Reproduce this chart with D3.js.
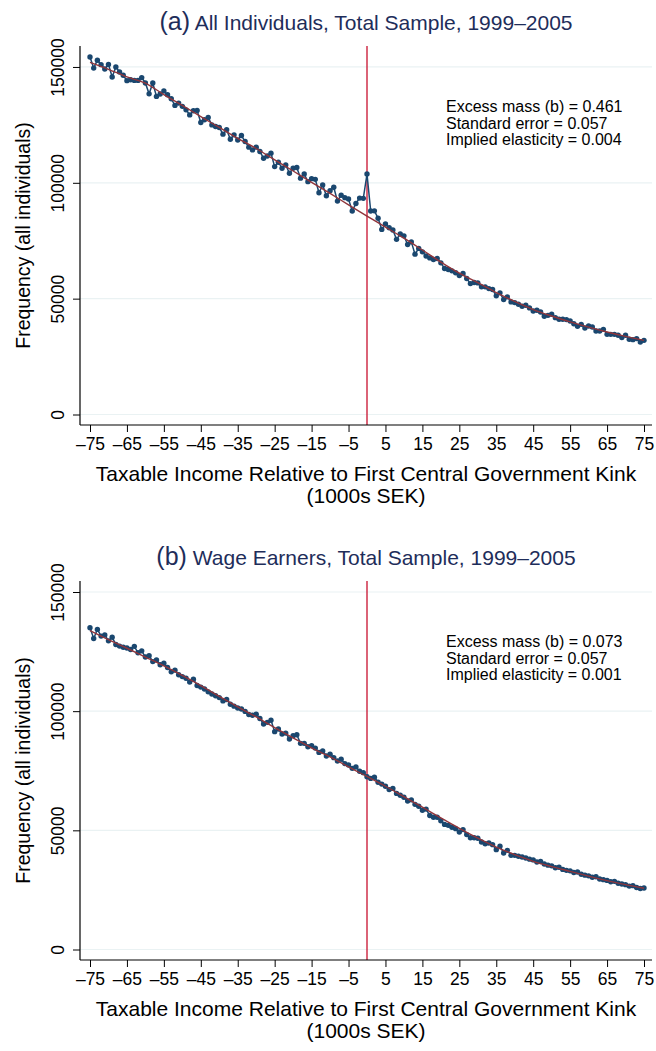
<!DOCTYPE html>
<html>
<head>
<meta charset="utf-8">
<script src="https://cdn.jsdelivr.net/npm/d3@7"></script>
<style>
  body { margin: 0; background: #fff; }
  svg { display: block; }
  text { font-family: "Liberation Sans", Arial, Helvetica, sans-serif; }
</style>
</head>
<body>
<svg id="chart" width="656" height="1051"></svg>
<script>
const svg = d3.select("#chart");

// bins of 1000 SEK relative to the kink
const bins = d3.range(-75, 76);
const fitBins = d3.range(-75, 76, 5);
const xTicks = [-75, -65, -55, -45, -35, -25, -15, -5, 5, 15, 25, 35, 45, 55, 65, 75];
const yTicks = [0, 50000, 100000, 150000];

// (a) all individuals
const countsA = [
  154300, 149500, 152900, 151000, 149100, 151100, 145700, 150000, 147800, 146400,
  144100, 144500, 144200, 144200, 145400, 143100, 138400, 143100, 137300, 138300,
  139600, 138000, 136300, 133400, 134400, 133000, 131500, 129300, 131100, 131200,
  126000, 127200, 128200, 125000, 124300, 123900, 121000, 122900, 118800, 120700,
  118500, 120400, 117800, 115400, 114200, 115400, 113500, 110600, 111600, 112800,
  107000, 108900, 106300, 107700, 104100, 106300, 106600, 102000, 103800, 100500,
  101800, 101500, 95700, 99100, 94400, 96600, 98100, 92100, 94600, 93600,
  93000, 87800, 91100, 93400, 93300, 103800, 87800, 87900, 84700, 79900,
  82200, 80600, 79600, 75600, 77900, 77100, 73400, 74500, 69200, 71700,
  70200, 68400, 67600, 66900, 67350, 65450, 63000, 62600, 62000, 61150,
  60000, 60850, 58700, 56500, 56950, 56800, 55100, 55100, 54350, 53950,
  51200, 52500, 49600, 50750, 48600, 48300, 47600, 46700, 47150, 46000,
  44700, 45000, 44250, 42400, 42800, 43250, 41800, 41100, 41100, 40950,
  40350, 39200, 38050, 38900, 37350, 38200, 37750, 36050, 36050, 36750,
  34600, 34600, 34600, 34200, 33200, 34200, 32450, 32300, 32750, 31300, 32000
];
const fitA = [
  152000, 149000, 145700, 143000, 138100, 133400, 128600, 123900, 119200, 114800,
  109900, 105100, 100200, 95400, 90500, 85650, 80900, 76100, 71000, 65800,
  61000, 56900, 52600, 48800, 45300, 42500, 40000, 37700, 35600, 33700, 32000
];
const notesA = ["Excess mass (b) = 0.461", "Standard error = 0.057", "Implied elasticity = 0.004"];

// (b) wage earners
const countsB = [
  135000, 130500, 134300, 131500, 132000, 129500, 131000, 128000, 127300, 126800,
  126500, 125900, 127200, 124500, 125300, 122700, 123300, 120800, 121500, 119500,
  120100, 118300, 116500, 117200, 115300, 114500, 113800, 112200, 113400, 110800,
  110100, 109300, 108100, 107200, 106500, 105700, 104300, 104900, 102900, 102100,
  101300, 100900, 99900, 98600, 98300, 98700, 96900, 94600, 95300, 96200,
  91400, 92500, 90400, 90800, 88300, 89700, 90100, 86500, 86500, 85100,
  85500, 84500, 82700, 83300, 81200, 81900, 80500, 79100, 79800, 78000,
  77400, 76000, 76600, 74800, 74200, 72500, 71800, 72300, 70200, 69400,
  68500, 67100, 67600, 65500, 64700, 63900, 62300, 62800, 60900, 60100,
  58400, 58900, 56200, 55500, 55500, 54000, 52500, 52100, 51300, 50700,
  49300, 50300, 48200, 46900, 46900, 46700, 45100, 44400, 44700, 44000,
  41900, 43300, 40500, 41600, 39500, 39500, 39100, 38800, 38400, 37900,
  37600, 36700, 36900, 35900, 35400, 35100, 34300, 34500, 33600, 33200,
  33000, 32300, 32500, 31600, 31200, 30900, 30300, 30500, 29600, 29300,
  29000, 28400, 28600, 27800, 27500, 27200, 26600, 26800, 26000, 25600, 25800
];
const fitB = [
  133800, 130000, 126400, 122700, 119000, 115000, 110700, 106200, 101800, 97600,
  93100, 88800, 84600, 80800, 76600, 72600, 68500, 64100, 59700, 55200,
  50800, 46700, 43000, 39800, 37000, 34800, 32800, 30800, 28900, 27200, 25700
];
const notesB = ["Excess mass (b) = 0.073", "Standard error = 0.057", "Implied elasticity = 0.001"];

const panels = [
  {tag: "(a)", title: " All Individuals, Total Sample, 1999\u20132005", counts: countsA, fit: fitA, notes: notesA, top: 0},
  {tag: "(b)", title: " Wage Earners, Total Sample, 1999\u20132005", counts: countsB, fit: fitB, notes: notesB, top: 535}
];

const plot = {left: 80, right: 652, top: 46, axis: 425};
const navy = "#1a476f", maroon = "#90353b", kinkRed = "#c8102e";

panels.forEach(p => {
  const g = svg.append("g").attr("transform", `translate(0,${p.top})`);

  const x = d3.scaleLinear().domain([-75, 75]).range([90, 644]);
  const y = d3.scaleLinear()
      .domain([0, Math.max(150000, d3.max(p.counts))])
      .range([414.5, 57]);

  // title
  const t = g.append("text")
      .attr("x", 366)
      .attr("y", 30)
      .attr("text-anchor", "middle")
      .attr("fill", "#1e2d5a");
  t.append("tspan").attr("font-size", 25).text(p.tag);
  t.append("tspan").attr("font-size", 21).text(p.title);

  // grid lines
  g.selectAll(".grid")
    .data(yTicks)
    .join("line")
      .attr("x1", plot.left)
      .attr("x2", plot.right)
      .attr("y1", d => y(d))
      .attr("y2", d => y(d))
      .attr("stroke", "#eaf2f3")
      .attr("stroke-width", 1.2);

  // kink line, drawn beneath the data
  g.append("line")
      .attr("x1", x(0)).attr("x2", x(0))
      .attr("y1", plot.top).attr("y2", plot.axis)
      .attr("stroke", kinkRed)
      .attr("stroke-width", 1.3);

  // y axis
  const yAxis = g.append("g")
      .attr("transform", `translate(${plot.left},0)`)
      .call(d3.axisLeft(y).tickValues(yTicks).tickSize(7).tickFormat(d3.format("d")));
  yAxis.select(".domain").remove();
  yAxis.selectAll("text")
      .attr("x", 0)
      .attr("y", -16)
      .attr("dy", 0)
      .attr("transform", "rotate(-90)")
      .attr("text-anchor", "middle")
      .attr("font-size", 17.5)
      .attr("font-family", null)
      .attr("fill", "#000");
  yAxis.selectAll("line").attr("stroke", "#000");

  // x axis
  const xAxis = g.append("g")
      .attr("transform", `translate(0,${plot.axis})`)
      .call(d3.axisBottom(x).tickValues(xTicks).tickSize(7).tickPadding(6)
        .tickFormat(d => d < 0 ? "\u2013" + Math.abs(d) : String(d)));
  xAxis.select(".domain").remove();
  xAxis.selectAll("text").attr("font-size", 17.5).attr("font-family", null).attr("fill", "#000");
  xAxis.selectAll("line").attr("stroke", "#000");

  g.append("line")
      .attr("x1", plot.left).attr("x2", plot.left)
      .attr("y1", plot.top).attr("y2", plot.axis)
      .attr("stroke", "#000").attr("stroke-width", 1.2);
  g.append("line")
      .attr("x1", plot.left).attr("x2", plot.right)
      .attr("y1", plot.axis).attr("y2", plot.axis)
      .attr("stroke", "#000").attr("stroke-width", 1.2);

  // observed bin counts
  const pts = bins.map((b, i) => ({x: b, y: p.counts[i]}));
  const line = d3.line().x(d => x(d.x)).y(d => y(d.y));
  g.append("path")
      .datum(pts)
      .attr("d", line)
      .attr("fill", "none")
      .attr("stroke", navy)
      .attr("stroke-width", 1.5);
  g.selectAll(".pt")
    .data(pts)
    .join("circle")
      .attr("cx", d => x(d.x))
      .attr("cy", d => y(d.y))
      .attr("r", 2.7)
      .attr("fill", navy);

  // counterfactual fit
  const fitPts = fitBins.map((b, i) => ({x: b, y: p.fit[i]}));
  g.append("path")
      .datum(fitPts)
      .attr("d", d3.line().x(d => x(d.x)).y(d => y(d.y)).curve(d3.curveMonotoneX))
      .attr("fill", "none")
      .attr("stroke", maroon)
      .attr("stroke-width", 1.4);

  // estimates box
  g.selectAll(".note")
    .data(p.notes)
    .join("text")
      .attr("x", 446)
      .attr("y", (d, i) => 112 + i * 16.5)
      .attr("font-size", 16)
      .attr("fill", "#000")
      .text(d => d);

  // axis titles
  g.append("text")
      .attr("transform", `translate(30,${(plot.top + plot.axis) / 2}) rotate(-90)`)
      .attr("text-anchor", "middle")
      .attr("font-size", 19.5)
      .text("Frequency (all individuals)");
  g.append("text")
      .attr("x", 366)
      .attr("y", 481)
      .attr("text-anchor", "middle")
      .attr("font-size", 21)
      .text("Taxable Income Relative to First Central Government Kink");
  g.append("text")
      .attr("x", 366)
      .attr("y", 503)
      .attr("text-anchor", "middle")
      .attr("font-size", 21)
      .text("(1000s SEK)");
});
</script>
</body>
</html>
